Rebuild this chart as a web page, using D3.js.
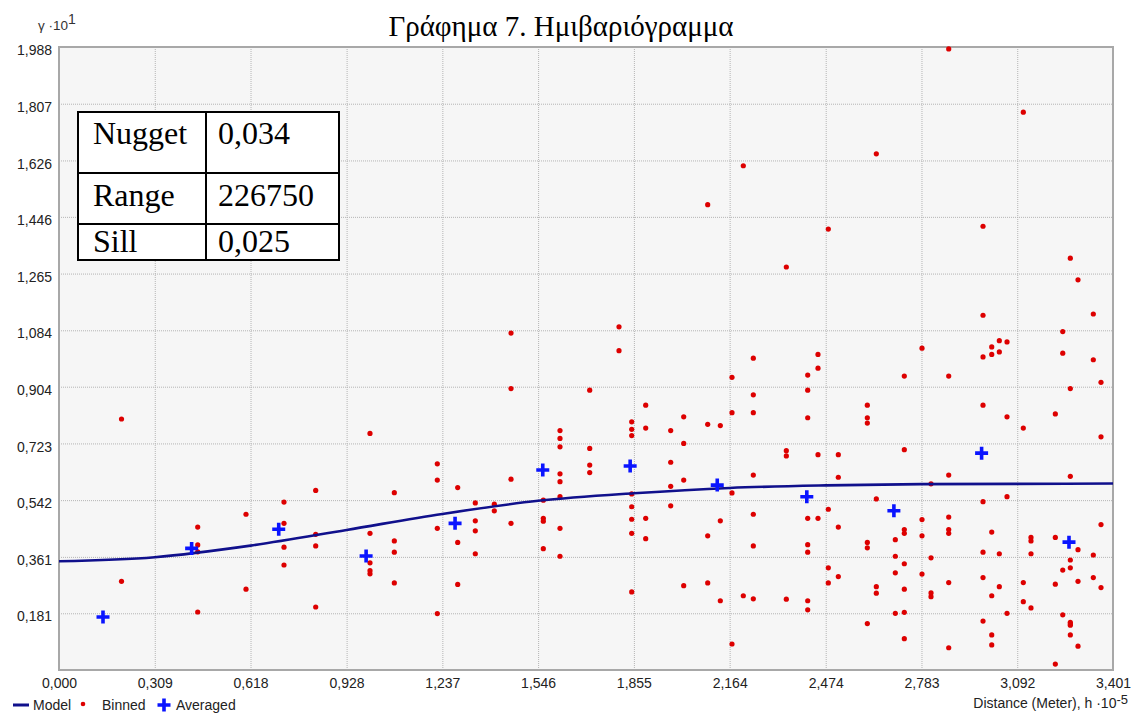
<!DOCTYPE html>
<html>
<head>
<meta charset="utf-8">
<script src="https://cdn.jsdelivr.net/npm/d3@7"></script>
<style>
body { margin: 0; background: #fff; }
svg { display: block; font-family: "Liberation Sans", Arial, sans-serif; }
.grid line { stroke: #b4b4b4; stroke-dasharray: 1,1; }
.grid path { display: none; }
.axis path { display: none; }
.axis text { fill: #222; font-size: 14px; }
</style>
</head>
<body>
<svg id="chart" width="1139" height="715"></svg>
<script>
// tick labels as printed on the chart
var xTickLabels = ["0,000", "0,309", "0,618", "0,928", "1,237", "1,546", "1,855", "2,164", "2,474", "2,783", "3,092", "3,401"];
var yTickLabels = ["0,181", "0,361", "0,542", "0,723", "0,904", "1,084", "1,265", "1,446", "1,626", "1,807", "1,988"];

// fitted model, read at every x tick
var modelLag = [0, 0.309, 0.618, 0.928, 1.237, 1.546, 1.855, 2.164, 2.474, 2.783, 3.092, 3.401];
var modelGamma = [0.347, 0.360, 0.397, 0.447, 0.498, 0.540, 0.564, 0.581, 0.589, 0.593, 0.594, 0.595];

// averaged values (blue crosses)
var avgLag = [0.142, 0.428, 0.709, 0.991, 1.278, 1.561, 1.843, 2.124, 2.413, 2.694, 2.977, 3.259];
var avgGamma = [0.169, 0.388, 0.449, 0.364, 0.468, 0.638, 0.651, 0.590, 0.553, 0.508, 0.692, 0.408];

// binned values (red dots), one list of gammas per lag column
var binLags = [0.2017, 0.4476, 0.6034, 0.7260, 0.8283, 1.0035, 1.0820, 1.2207, 1.2865, 1.3433,
  1.4046, 1.4585, 1.5628, 1.6166, 1.7125, 1.8070, 1.8480, 1.8932, 1.9738, 2.0158,
  2.0932, 2.1339, 2.1716, 2.2081, 2.2404, 2.3469, 2.4159, 2.4491, 2.4824, 2.5147,
  2.6083, 2.6373, 2.6986, 2.7276, 2.7847, 2.8138, 2.8709, 2.9816, 3.0097, 3.0342,
  3.0590, 3.1116, 3.1364, 3.2149, 3.2388, 3.2633, 3.2881, 3.3375, 3.3623];
var binGammas = [
  [0.801, 0.283],
  [0.456, 0.399, 0.377, 0.185],
  [0.497, 0.258],
  [0.536, 0.468, 0.392, 0.335],
  [0.573, 0.433, 0.396, 0.201],
  [0.755, 0.436, 0.342, 0.317, 0.307],
  [0.566, 0.412, 0.376, 0.278],
  [0.658, 0.606, 0.452, 0.180],
  [0.582, 0.407, 0.273],
  [0.533, 0.476, 0.444, 0.371],
  [0.529, 0.508],
  [1.075, 0.898, 0.609, 0.468],
  [0.542, 0.484, 0.475, 0.387],
  [0.764, 0.739, 0.712, 0.626, 0.601, 0.553, 0.452, 0.363],
  [0.893, 0.707, 0.654, 0.630],
  [1.095, 1.019],
  [0.792, 0.768, 0.748, 0.562, 0.521, 0.481, 0.436, 0.249],
  [0.845, 0.772, 0.484, 0.419],
  [0.764, 0.663, 0.586, 0.524],
  [0.808, 0.723, 0.606, 0.269],
  [1.485, 0.784, 0.428, 0.278],
  [0.780, 0.476, 0.221],
  [0.934, 0.821, 0.565, 0.083],
  [1.609, 0.237],
  [0.995, 0.878, 0.821, 0.622, 0.497, 0.396, 0.227],
  [1.286, 0.700, 0.683, 0.226],
  [0.941, 0.893, 0.805, 0.484, 0.400, 0.376, 0.221, 0.192],
  [1.007, 0.963, 0.687, 0.484],
  [1.407, 0.513, 0.326, 0.278],
  [0.687, 0.615, 0.456, 0.298],
  [0.845, 0.805, 0.788, 0.407, 0.390, 0.148],
  [1.647, 0.546, 0.266, 0.245],
  [0.416, 0.363, 0.310, 0.181],
  [0.938, 0.703, 0.448, 0.436, 0.339, 0.258, 0.184, 0.100],
  [1.027, 0.480, 0.428, 0.306],
  [0.594, 0.358, 0.246, 0.234],
  [1.982, 0.938, 0.622, 0.488, 0.448, 0.436, 0.279, 0.071],
  [1.416, 1.132, 0.999, 0.845, 0.537, 0.376, 0.295, 0.156],
  [1.031, 1.007, 0.440, 0.237, 0.112, 0.080],
  [1.051, 1.015, 0.371, 0.266],
  [1.047, 0.808, 0.553, 0.181],
  [1.780, 0.772, 0.279, 0.218],
  [0.423, 0.412, 0.371, 0.198],
  [0.817, 0.423, 0.274, 0.019],
  [1.080, 1.011, 0.319, 0.176],
  [1.314, 0.898, 0.618, 0.351, 0.326, 0.152, 0.147, 0.143, 0.112],
  [1.245, 0.384, 0.283, 0.076],
  [1.136, 0.990, 0.367, 0.295],
  [0.918, 0.744, 0.464, 0.263]
];

// parameter table
var tableNames = ["Nugget", "Range", "Sill"];
var tableValues = ["0,034", "226750", "0,025"];

var title = "Γράφημα 7. Ημιβαριόγραμμα";

var W = 1139, H = 715;
var margin = {top: 47, right: 26, bottom: 45, left: 59};
var svg = d3.select("#chart");

var xTicks = xTickLabels.map(function (s) {return +s.replace(",", ".");});
var yTicks = yTickLabels.map(function (s) {return +s.replace(",", ".");});

var x = d3.scaleLinear().domain([0, xTicks[xTicks.length - 1]]).range([margin.left, W - margin.right]);
var y = d3.scaleLinear().domain([0, yTicks[yTicks.length - 1]]).range([H - margin.bottom, margin.top]);

var plotW = W - margin.left - margin.right;
var plotH = H - margin.top - margin.bottom;

svg.append("rect").
attr("x", margin.left).attr("y", margin.top).
attr("width", plotW).attr("height", plotH).
attr("fill", "#f6f6f6");

// dotted grid
svg.append("g").attr("class", "grid").
attr("transform", "translate(0," + (H - margin.bottom) + ")").
call(d3.axisBottom(x).tickValues(xTicks.slice(1, -1)).tickSize(-plotH).tickFormat(""));

svg.append("g").attr("class", "grid").
attr("transform", "translate(" + margin.left + ",0)").
call(d3.axisLeft(y).tickValues(yTicks.slice(0, -1)).tickSize(-plotW).tickFormat(""));

svg.append("rect").
attr("x", margin.left).attr("y", margin.top).
attr("width", plotW).attr("height", plotH).
attr("fill", "none").attr("stroke", "#a8a8a8").attr("stroke-width", 2);

// axes labels
svg.append("g").attr("class", "axis").
attr("transform", "translate(0," + (H - margin.bottom) + ")").
call(d3.axisBottom(x).tickValues(xTicks).tickSize(0).tickPadding(8).
tickFormat(function (d, i) {return xTickLabels[i];}));

svg.append("g").attr("class", "axis").
attr("transform", "translate(" + margin.left + ",0)").
call(d3.axisLeft(y).tickValues(yTicks).tickSize(0).tickPadding(7).
tickFormat(function (d, i) {return yTickLabels[i];})).
selectAll("text").attr("dy", "0.55em");

// binned dots
var binned = [];
binLags.forEach(function (h, i) {
  binGammas[i].forEach(function (g) {binned.push([h, g]);});
});

svg.append("g").selectAll("circle").
data(binned).
enter().append("circle").
attr("cx", function (d) {return x(d[0]);}).
attr("cy", function (d) {return y(d[1]);}).
attr("r", 2.6).
attr("fill", "#dd0000");

// model curve
var line = d3.line().
x(function (d, i) {return x(modelLag[i]);}).
y(function (d) {return y(d);}).
curve(d3.curveMonotoneX);

svg.append("path").
datum(modelGamma).
attr("d", line).
attr("fill", "none").
attr("stroke", "#10108c").
attr("stroke-width", 2.6);

// averaged crosses
var CROSS = 6.5;
var crossPath = function (cx, cy) {
  return "M" + (cx - CROSS) + "," + cy + "H" + (cx + CROSS) +
  "M" + cx + "," + (cy - CROSS) + "V" + (cy + CROSS);
};

svg.append("g").selectAll("path").
data(avgLag).
enter().append("path").
attr("d", function (d, i) {return crossPath(x(d), y(avgGamma[i]));}).
attr("stroke", "#0a14ff").
attr("stroke-width", 3.6).
attr("fill", "none");

// title
svg.append("text").
attr("x", 561).attr("y", 36).
attr("text-anchor", "middle").
style("font-family", "'Liberation Serif', 'Times New Roman', serif").
style("font-size", "29px").
text(title);

// y label
var ylab = svg.append("text").attr("x", 38).attr("y", 30).
style("font-size", "13.5px").attr("fill", "#333");
ylab.append("tspan").text("γ ·10");
ylab.append("tspan").attr("dy", -6).style("font-size", "14px").text("1");

// x label
var xlab = svg.append("text").attr("x", 1128).attr("y", 708).
attr("text-anchor", "end").
style("font-size", "14px").attr("fill", "#222");
xlab.append("tspan").text("Distance (Meter), h ·10");
xlab.append("tspan").attr("dy", -4).style("font-size", "13px").text("-5");

// table
var rowTops = [112, 173, 224, 260];
var TX0 = 78, TX1 = 206, TX2 = 339;
var table = svg.append("g").
style("font-family", "'Liberation Serif', 'Times New Roman', serif").
style("font-size", "32px");

table.append("rect").
attr("x", TX0).attr("y", rowTops[0]).
attr("width", TX2 - TX0).attr("height", rowTops[3] - rowTops[0]).
attr("fill", "#fff").attr("stroke", "#000").attr("stroke-width", 2);

table.append("line").attr("x1", TX1).attr("x2", TX1).
attr("y1", rowTops[0]).attr("y2", rowTops[3]).
attr("stroke", "#000").attr("stroke-width", 2);

table.selectAll("line.row").
data([rowTops[1], rowTops[2]]).
enter().append("line").attr("class", "row").
attr("x1", TX0).attr("x2", TX2).
attr("y1", function (d) {return d;}).attr("y2", function (d) {return d;}).
attr("stroke", "#000").attr("stroke-width", 2);

var textBase = [144, 206, 252];
tableNames.forEach(function (n, i) {
  table.append("text").attr("x", 93).attr("y", textBase[i]).text(n);
  table.append("text").attr("x", 218).attr("y", textBase[i]).text(tableValues[i]);
});

// legend
var legend = svg.append("g").style("font-size", "14px").attr("fill", "#222");
legend.append("line").attr("x1", 13).attr("x2", 29).attr("y1", 705).attr("y2", 705).
attr("stroke", "#10108c").attr("stroke-width", 3);
legend.append("text").attr("x", 33).attr("y", 710).text("Model");
legend.append("circle").attr("cx", 83).attr("cy", 704).attr("r", 2.3).attr("fill", "#dd0000");
legend.append("text").attr("x", 102).attr("y", 710).text("Binned");
legend.append("path").attr("d", crossPath(164, 705)).
attr("stroke", "#0a14ff").attr("stroke-width", 3.6);
legend.append("text").attr("x", 176).attr("y", 710).text("Averaged");
</script>
</body>
</html>
